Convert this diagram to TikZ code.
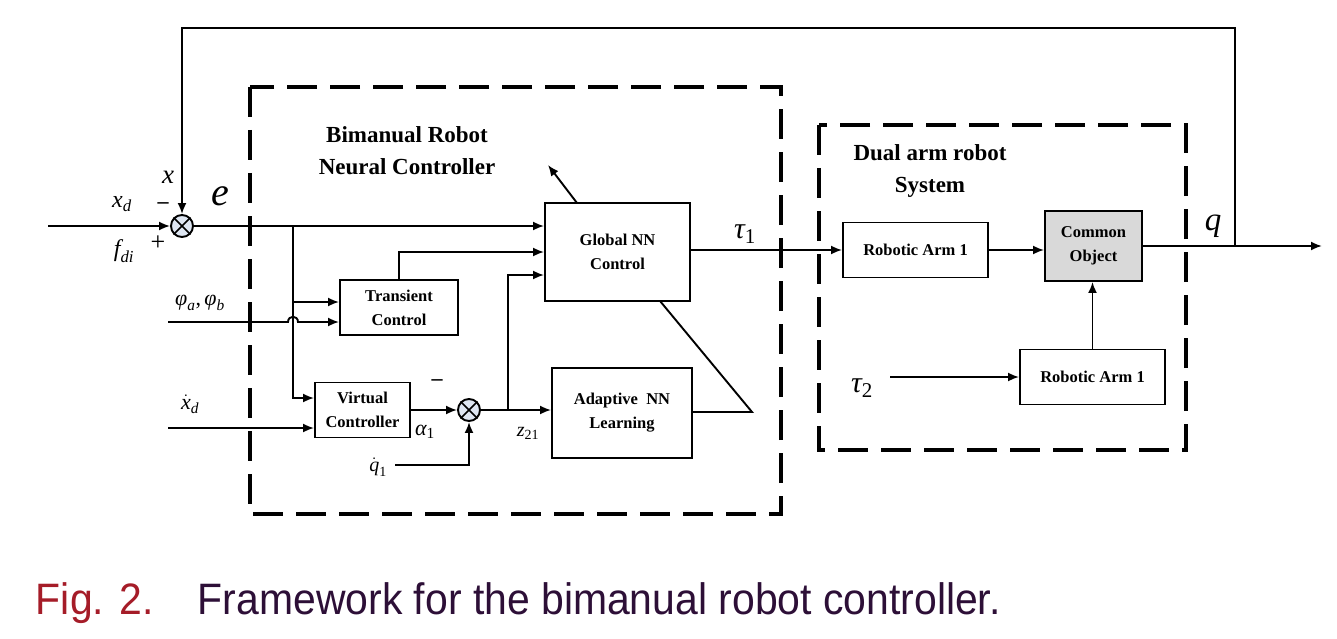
\documentclass[tikz,border=0pt]{standalone}
\usepackage{amsmath}
\usepackage{fontspec}
\setmainfont{Liberation Serif}
\newfontfamily\capfont[FakeStretch=0.93]{Liberation Sans}
\usetikzlibrary{arrows.meta}
\definecolor{figred}{RGB}{165,28,40}
\definecolor{capdark}{RGB}{45,15,55}
\definecolor{sumfill}{RGB}{222,230,242}
\definecolor{cofill}{RGB}{217,217,217}
\newcommand{\fs}[1]{\fontsize{#1}{#1}\selectfont}
\newcommand{\mi}[1]{\text{\itshape #1}}
\begin{document}
\begin{tikzpicture}[x=1pt,y=-1pt,line width=1.9pt,
  >={Latex[length=11pt,width=9pt]},
  blk/.style={draw,line width=1.9pt,align=center,inner sep=0pt,
    font=\fontsize{16.5}{24}\selectfont\bfseries},
  sumnode/.style={draw,circle,fill=sumfill,minimum size=22pt,inner sep=0pt,line width=1.9pt},
  dashbox/.style={line width=4pt,dash pattern=on 30pt off 13pt},
  lbl/.style={inner sep=0pt},
  ttl/.style={align=center,inner sep=0pt,font=\fontsize{23}{32}\selectfont\bfseries}]
\useasboundingbox (0,0) rectangle (1337,639);

% dashed frames
\draw[dashbox] (250,87) rectangle (781,514);
\draw[dashbox] (819,125) rectangle (1186,450);

% blocks
\node[blk,minimum width=145pt,minimum height=98pt] (g) at (617.5,252) {Global NN\\Control};
\node[blk,minimum width=118pt,minimum height=55pt] (tc) at (399,307.5) {Transient\\Control};
\node[blk,minimum width=95pt,minimum height=55pt] (vc) at (362.5,410) {Virtual\\Controller};
\node[blk,minimum width=140pt,minimum height=90pt] (an) at (622,413) {Adaptive\ \ NN\\Learning};
\node[blk,minimum width=145pt,minimum height=55pt] (a1) at (915.5,250) {Robotic Arm 1};
\node[blk,minimum width=97pt,minimum height=70pt,fill=cofill] (co) at (1093.5,246) {Common\\Object};
\node[blk,minimum width=145pt,minimum height=55pt] (a2) at (1092.5,377) {Robotic Arm 1};

% summing junctions
\node[sumnode] (s1) at (182,226) {};
\draw[line width=1.6pt] (s1.north west) -- (s1.south east) (s1.north east) -- (s1.south west);
\node[sumnode] (s2) at (469,410) {};
\draw[line width=1.6pt] (s2.north west) -- (s2.south east) (s2.north east) -- (s2.south west);

% helper coordinates
\coordinate (in1) at (48,226);
\coordinate (fb) at (1235,246);
\coordinate (top) at (0,28);
\coordinate (out) at (1322,246);
\coordinate (b1) at (293,226);
\coordinate (b2) at (293,302);
\coordinate (y398) at (0,398);
\coordinate (phin) at (168,322);
\coordinate (hopL) at (288,322);
\coordinate (hopR) at (298,322);
\coordinate (y252) at (0,252);
\coordinate (y275) at (0,275);
\coordinate (y250) at (0,250);
\coordinate (xdin) at (168,428);
\coordinate (qin) at (395,465);
\coordinate (b3) at (508,410);
\coordinate (gtop) at (577,203);
\coordinate (gtip) at (548,165);
\coordinate (gbot) at (660,301);
\coordinate (corner) at (752,412);
\coordinate (t2in) at (890,377);

% connectors
\draw[->] (in1) -- (s1.west);
\draw[->] (fb) |- (s1.north |- top) -- (s1.north);
\draw[->] (co.east |- out) -- (out);
\draw[->] (s1.east) -- (s1.east -| g.west);
\draw[->] (b1) |- (vc.west |- y398);
\draw[->] (b2) -- (tc.west |- b2);
\draw[->] (phin) -- (hopL) .. controls (288,315) and (298,315) .. (hopR) -- (tc.west |- phin);
\draw[->] (tc.north) |- (g.west |- y252);
\draw[->] (xdin) -- (vc.west |- xdin);
\draw[->] (vc.east |- s2) -- (s2.west);
\draw[->] (qin) -| (s2.south);
\draw[->] (s2.east) -- (an.west |- s2);
\draw[->] (b3) |- (g.west |- y275);
\draw[->] (g.east |- y250) -- (a1.west |- y250);
\draw[->] (a1.east) -- (co.west |- a1.east);
\draw[->] (a2.north) -- (a2.north |- co.south);
\draw[->] (t2in) -- (a2.west |- t2in);
\draw[->] (gtop) -- (gtip);
\draw (gbot) -- (corner) -- (an.east |- corner);

% labels
\node[lbl,font=\fs{24}] (lxd) at (122,204) {$\mi{x}_{\mi{d}}$};
\node[lbl,font=\fs{24}] (lfdi) at (124,251) {$\mi{f}_{\mi{di}}$};
\node[lbl,font=\fs{26}] (lplus) at (158,243) {+};
\node[lbl,font=\fs{22}\bfseries] (lminus1) at (163,206) {–};
\node[lbl,font=\fs{27}] (lx) at (168,177) {\itshape x};
\node[lbl,font=\fs{40}] (le) at (220,196) {\itshape e};
\node[lbl,font=\fs{22}] (lphi) at (200,303) {$\mi{φ}_{\mi{a}}\text{,}\,\mi{φ}_{\mi{b}}$};
\node[lbl,font=\fs{22}] (lxdot) at (190,404) {$\dot{\mi{x}}_{\mi{d}}$};
\node[lbl,font=\fs{22}] (lalpha) at (425,432) {$\mi{α}_{\text{1}}$};
\node[lbl,font=\fs{20}] (lqdot) at (378,467) {$\dot{\mi{q}}_{\text{1}}$};
\node[lbl,font=\fs{22}\bfseries] (lminus2) at (437,383) {–};
\node[lbl,font=\fs{20}] (lz) at (528,433) {$\mi{z}_{\text{21}}$};
\node[lbl,font=\fs{30}] (ltau1) at (745,234) {$\mi{τ}_{\text{1}}$};
\node[lbl,font=\fs{30}] (ltau2) at (862,388) {$\mi{τ}_{\text{2}}$};
\node[lbl,font=\fs{33}] (lq) at (1213,226) {\itshape q};

% titles
\node[ttl] (t1) at (407,151) {Bimanual Robot\\Neural Controller};
\node[ttl] (t2) at (930,171) {Dual arm robot\\System};

% caption
\node[anchor=base west,inner sep=0pt,font=\capfont\fs{44},text=figred] (cap1) at (35,614) {Fig. 2.};
\node[anchor=base west,inner sep=0pt,font=\capfont\fs{44},text=capdark] (cap2) at (197,614) {Framework for the bimanual robot controller.};
\end{tikzpicture}
\end{document}
